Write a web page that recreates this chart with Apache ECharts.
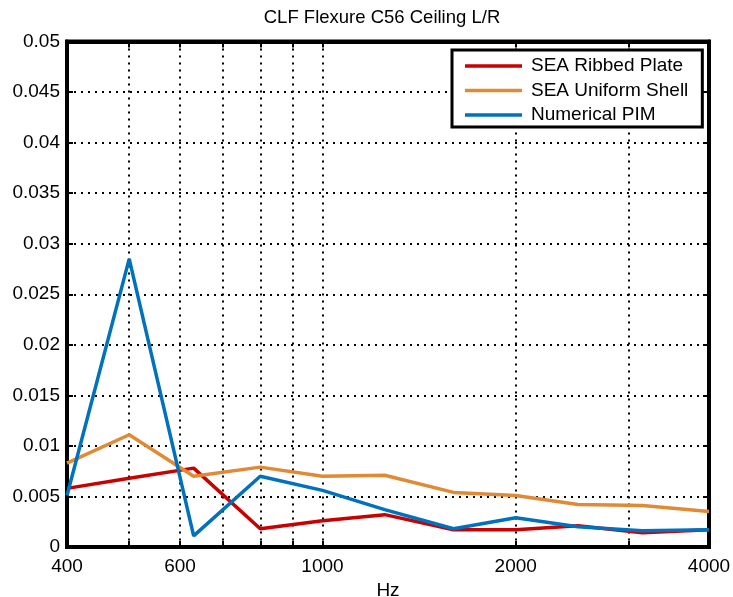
<!DOCTYPE html>
<html>
<head>
<meta charset="utf-8">
<script src="https://cdn.jsdelivr.net/npm/echarts@6/dist/echarts.min.js"></script>
<style>
  html, body { margin: 0; padding: 0; background: #fff; }
  #chart { width: 733px; height: 597px; }
</style>
</head>
<body>
<div id="chart"></div>
<script>
// One-third octave band centre frequencies (Hz)
const freqs = [400, 500, 630, 800, 1000, 1250, 1600, 2000, 2500, 3150, 4000];

// Coupling loss factor per band
const seaRibbedPlate  = [0.0058, 0.0068, 0.0078, 0.0018, 0.0026, 0.0032, 0.0017, 0.0017, 0.0021, 0.0014, 0.0017];
const seaUniformShell = [0.0083, 0.0111, 0.0070, 0.0079, 0.0070, 0.0071, 0.0054, 0.0051, 0.0042, 0.0041, 0.0035];
const numericalPIM    = [0.0051, 0.0285, 0.0011, 0.0070, 0.0056, 0.0037, 0.0018, 0.0029, 0.0020, 0.0016, 0.0017];

// Axis ticks
const xLabelValues = [400, 600, 1000, 2000, 4000];
const xGridValues  = [500, 600, 700, 800, 900, 1000, 2000, 3000];
const yMin = 0, yMax = 0.05, yStep = 0.005;

const FONT = '"Liberation Sans", Arial, Helvetica, sans-serif';
const dotted = { color: '#000', width: 2, type: [2, 5] };

const pairs = (vals) => freqs.map((f, i) => [f, vals[i]]);

const chart = echarts.init(document.getElementById('chart'), null, { renderer: 'canvas' });

const baseX = {
  type: 'log',
  min: 400,
  max: 4000,
  axisLine: { show: true, onZero: false, lineStyle: { color: '#000', width: 4 } },
  axisTick: { show: true, inside: true, length: 6, customValues: xGridValues, lineStyle: { color: '#000', width: 2 } },
  minorTick: { show: false },
  minorSplitLine: { show: false }
};

const baseY = {
  type: 'value',
  min: yMin,
  max: yMax,
  interval: yStep,
  axisLine: { show: true, onZero: false, lineStyle: { color: '#000', width: 4 } },
  axisTick: { show: true, inside: true, length: 6, lineStyle: { color: '#000', width: 2 } }
};

chart.setOption({
  animation: false,
  backgroundColor: '#fff',
  title: {
    text: 'CLF Flexure C56 Ceiling L/R',
    left: 382,
    top: 8,
    textAlign: 'center',
    padding: 0,
    textStyle: { fontFamily: FONT, fontSize: 18.5, fontWeight: 'normal', color: '#000' }
  },
  grid: {
    left: 67, right: 24, top: 41.5, bottom: 50,
    containLabel: false,
    outerBoundsMode: 'none',
    show: true, borderColor: '#000', borderWidth: 4, backgroundColor: '#fff'
  },
  legend: {
    orient: 'vertical',
    left: 452,
    top: 50,
    padding: [6, 14, 2, 13],
    itemGap: 4.5,
    itemWidth: 57,
    itemHeight: 3.5,
    icon: 'rect',
    borderColor: '#000',
    borderWidth: 3,
    backgroundColor: '#fff',
    textStyle: { fontFamily: FONT, fontSize: 19, color: '#000', lineHeight: 20, padding: [0, 0, 0, 4] },
    data: ['SEA Ribbed Plate', 'SEA Uniform Shell', 'Numerical PIM']
  },
  xAxis: [
    Object.assign({}, baseX, {
      position: 'bottom',
      name: 'Hz',
      nameLocation: 'middle',
      nameGap: 34,
      nameTextStyle: { fontFamily: FONT, fontSize: 19, color: '#000' },
      axisLabel: {
        show: true, margin: 10, customValues: xLabelValues,
        fontFamily: FONT, fontSize: 19, color: '#000',
        formatter: (v) => String(Math.round(v))
      },
      splitLine: { show: true, lineStyle: dotted }
    }),
    Object.assign({}, baseX, {
      position: 'top',
      axisLabel: { show: false },
      splitLine: { show: false }
    })
  ],
  yAxis: [
    Object.assign({}, baseY, {
      position: 'left',
      axisLabel: {
        show: true, margin: 7,
        fontFamily: FONT, fontSize: 19, color: '#000',
        formatter: (v) => String(+v.toFixed(3))
      },
      splitLine: { show: true, lineStyle: dotted }
    }),
    Object.assign({}, baseY, {
      position: 'right',
      axisLabel: { show: false },
      splitLine: { show: false }
    })
  ],
  series: [
    {
      name: 'SEA Ribbed Plate', type: 'line', data: pairs(seaRibbedPlate),
      symbol: 'none', color: '#c80000', lineStyle: { width: 3.5, color: '#c80000' }, z: 3
    },
    {
      name: 'SEA Uniform Shell', type: 'line', data: pairs(seaUniformShell),
      symbol: 'none', color: '#e08a35', lineStyle: { width: 3.5, color: '#e08a35' }, z: 3
    },
    {
      name: 'Numerical PIM', type: 'line', data: pairs(numericalPIM),
      symbol: 'none', color: '#0072bd', lineStyle: { width: 3.5, color: '#0072bd' }, z: 3
    }
  ]
});
</script>
</body>
</html>
